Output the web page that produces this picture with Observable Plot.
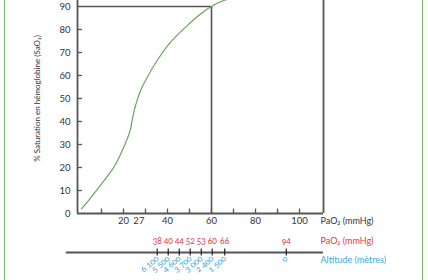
<!DOCTYPE html>
<html><head><meta charset="utf-8">
<script src="https://cdn.jsdelivr.net/npm/d3@7"></script>
<script src="https://cdn.jsdelivr.net/npm/@observablehq/plot@0.6"></script>
<style>
body{margin:0;background:#fff;}
#wrap{position:relative;width:428px;height:280px;overflow:hidden;}
#border{position:absolute;left:4px;top:-10px;width:417px;height:300px;border-left:1.5px solid #7db46c;border-right:1.5px solid #7db46c;}
#chart{position:absolute;left:0;top:0;}
#chart svg{font-family:Lato,"Open Sans",sans-serif;font-variant-numeric:oldstyle-nums;}
</style></head>
<body><div id="wrap"><div id="border"></div><div id="chart"></div></div>
<script>
// Oxygen dissociation curve (PaO2 mmHg -> SaO2 %)
const curvePaO2 = [0.9, 5, 9.5, 12.5, 15.6, 18, 20.1, 22, 23.2, 23.9, 25.5, 27.7, 30, 35.3, 41.4, 49, 55, 59.9, 65.6, 75, 100];
const curveSaO2 = [2.0, 6.7, 12.2, 15.9, 20.1, 24.3, 28.8, 33.2, 36.6, 40.4, 47.0, 53.3, 57.8, 66.5, 74.5, 81.7, 86.7, 90, 92.6, 95, 98];

const xTickValues = [10, 20, 30, 40, 50, 60, 70, 80, 90, 100];
const xTickLabels = [20, 27, 40, 60, 80, 100];
const yTickValues = [0, 10, 20, 30, 40, 50, 60, 70, 80, 90];

const markerPaO2 = 60;
const markerSaO2 = 90;

// altitude scale
const altPaO2 = [38, 40, 44, 52, 53, 60, 66, 94];
const altMetres = [6100, 5500, 4600, 3700, 3000, 2400, 1500, 0];

const xLabel = "PaO₂ (mmHg)";
const yLabel = "% Saturation en hémoglobine (SaO₂)";
const altLabel = "Altitude (mètres)";

// layout config
const X0 = -0.9, X1 = 110.9, YTOP = 92.6, AXIS2_START = -6;
const ink = "#555", red = "#e4344b", blue = "#3aa9dc", green = "#6aa35a", txt = "#333";

// spread crowded labels apart (simple relaxation)
function spread(vals, gap) {
  const p = vals.slice();
  for (let k = 0; k < 300; k++) {
    for (let i = 0; i < p.length - 1; i++) {
      const d = p[i + 1] - p[i];
      if (d < gap) { const s = (gap - d) / 2; p[i] -= s; p[i + 1] += s; }
    }
  }
  return p;
}
const altPos = spread(altPaO2, 5);
const fmtAlt = d => d >= 1000 ? `${Math.floor(d / 1000)}\u202F${String(d % 1000).padStart(3, "0")}` : String(d);

const curve = curvePaO2.map((x, i) => ({x, y: curveSaO2[i]}));

const plot = Plot.plot({
  width: 428, height: 280,
  marginLeft: 77, marginRight: 105, marginTop: 0, marginBottom: 67,
  x: {domain: [X0, X1], axis: null},
  y: {domain: [0, YTOP], axis: null},
  style: {fontFamily: "Lato, 'Open Sans', sans-serif", fontSize: "9px", color: txt, background: "transparent", overflow: "visible"},
  marks: [
    Plot.ruleY([markerSaO2], {x1: X0, x2: markerPaO2, stroke: ink, strokeWidth: 1.6}),
    Plot.ruleX([markerPaO2], {y1: 0, y2: markerSaO2, stroke: ink, strokeWidth: 1.6}),
    Plot.line(curve, {x: "x", y: "y", stroke: green, strokeWidth: 1.2, curve: "catmull-rom", clip: true}),
    Plot.ruleX([X0, X1], {stroke: ink, strokeWidth: 1.8}),
    Plot.ruleY([0], {x1: X0, x2: X1, stroke: ink, strokeWidth: 1.8}),
    Plot.ruleX(xTickValues, {y1: 0, y2: 0, insetTop: -4.5, insetBottom: 0, stroke: ink, strokeWidth: 1.3}),
    Plot.ruleY(yTickValues.filter(d => d > 0 && d < markerSaO2), {x1: X0, x2: X0, insetRight: -5, insetLeft: 0, stroke: ink, strokeWidth: 1.3}),
    Plot.text(xTickLabels, {x: d => d, frameAnchor: "bottom", dy: 10, fill: txt, fontSize: 9.5}),
    Plot.text(yTickValues, {y: d => d, frameAnchor: "left", textAnchor: "end", dx: -7, fill: txt, fontSize: 9.5}),
    Plot.text([yLabel], {y: () => 50, frameAnchor: "left", textAnchor: "middle", rotate: -90, dx: -40, fill: txt, fontSize: 8}),
    Plot.text([xLabel], {frameAnchor: "bottom-right", textAnchor: "start", dx: -3, dy: 10, fill: txt, fontSize: 9}),
    // second (altitude) axis
    Plot.ruleY([0], {x1: AXIS2_START, x2: X1, dy: 39, stroke: ink, strokeWidth: 1.8}),
    Plot.ruleX(altPaO2, {x: (d, i) => altPos[i], y1: 0, y2: 0, insetTop: -3.5, insetBottom: -3.5, dy: 39, stroke: "#222", strokeWidth: 1.2}),
    Plot.text(altPaO2, {x: (d, i) => altPos[i], text: d => String(d), frameAnchor: "bottom", dy: 30, fill: red, fontSize: 8.5}),
    Plot.text(altMetres, {x: (d, i) => altPos[i], text: fmtAlt, frameAnchor: "bottom", textAnchor: "end", rotate: -40, dx: 2, dy: 46, fill: blue, fontSize: 8.5}),
    Plot.text([xLabel], {frameAnchor: "bottom-right", textAnchor: "start", dx: -3, dy: 30, fill: red, fontSize: 9}),
    Plot.text([altLabel], {frameAnchor: "bottom-right", textAnchor: "start", dx: -3, dy: 49, fill: blue, fontSize: 9})
  ]
});
document.getElementById("chart").append(plot);
</script>
</body></html>
